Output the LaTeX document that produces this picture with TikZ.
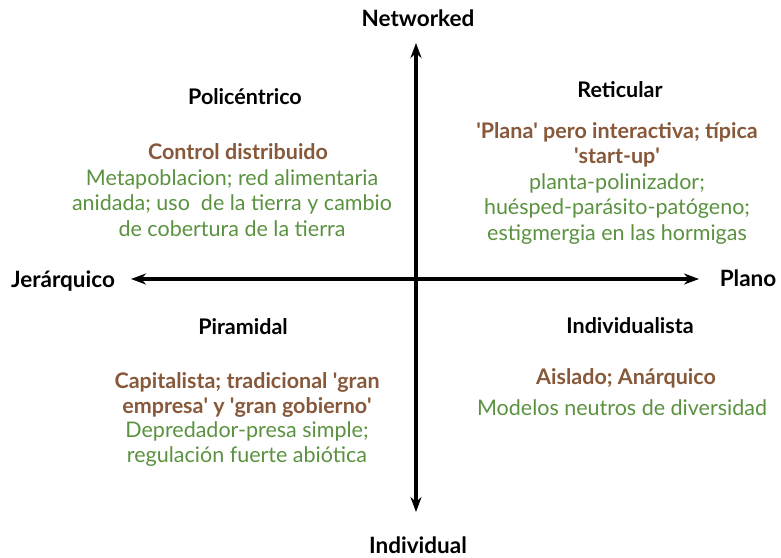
\documentclass[tikz,border=0pt]{standalone}
\usepackage{fontspec}
\setmainfont{Lato}
\usetikzlibrary{arrows.meta}
\definecolor{brn}{RGB}{135,88,58}
\definecolor{grn}{RGB}{90,146,64}
\newcommand{\sq}{\textquotesingle}
\tikzset{
  axis/.style={line width=3.2pt,{Stealth[length=15pt,width=11pt]}-{Stealth[length=15pt,width=11pt]}},
  lbl/.style={font=\fontsize{22.5}{26}\selectfont\bfseries,text=black,inner sep=0pt},
  head/.style={font=\fontsize{21.5}{26}\selectfont\bfseries,text=black,inner sep=0pt},
  bt/.style={font=\fontsize{21.5}{25.5}\selectfont\bfseries,text=brn,align=center,inner sep=0pt},
  gt/.style={font=\fontsize{21.5}{25.5}\selectfont,text=grn,align=center,inner sep=0pt}
}
\begin{document}
\begin{tikzpicture}[x=1pt,y=-1pt]
\useasboundingbox (0,0) rectangle (781,557);
\coordinate (N) at (416,43);
\coordinate (S) at (416,512);
\coordinate (W) at (131,279);
\coordinate (E) at (699,279);
\draw[axis] (S) -- (N);
\draw[axis] (W) -- (E);
\node[lbl] (networked) at (418,18) {Networked};
\node[lbl] (individual) at (418,545) {Individual};
\node[lbl] (jer) at (63,281) {Jerárquico};
\node[lbl] (plano) at (748,278) {Plano};
\node[head] (poli) at (245,97) {Policéntrico};
\node[bt] (poliB) at (238,152) {Control distribuido};
\node[gt] (poliG) at (232,203) {Metapoblacion; red alimentaria\\anidada; uso\ \ de la tierra y cambio\\de cobertura de la tierra};
\node[head] (ret) at (620,90) {Reticular};
\node[bt] (retB) at (617,145) {\sq Plana\sq{} pero interactiva; típica\\\sq start-up\sq};
\node[gt] (retG) at (617,209) {planta-polinizador;\\huésped-parásito-patógeno;\\estigmergia en las hormigas};
\node[head] (pir) at (243,327) {Piramidal};
\node[bt] (pirB) at (247,395) {Capitalista; tradicional \sq gran\\empresa\sq{} y \sq gran gobierno\sq};
\node[gt] (pirG) at (247,444) {Depredador-presa simple;\\regulación fuerte abiótica};
\node[head] (ind) at (630,326) {Individualista};
\node[bt] (indB) at (626,378) {Aislado; Anárquico};
\node[gt] (indG) at (622,408) {Modelos neutros de diversidad};
\end{tikzpicture}
\end{document}
